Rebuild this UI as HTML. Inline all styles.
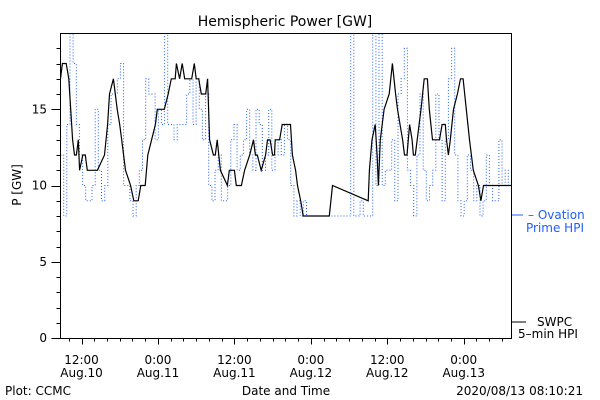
<!DOCTYPE html>
<html><head><meta charset="utf-8"><style>
html,body{margin:0;padding:0;background:#fff;}
svg{display:block;font-family:"DejaVu Sans","Liberation Sans",sans-serif;}
</style></head><body>
<svg id="chart" width="600" height="400" viewBox="0 0 600 400">
<rect width="600" height="400" fill="#fff"/>
<text x="285" y="26" font-size="14" text-anchor="middle">Hemispheric Power [GW]</text>
<text transform="translate(21,185) rotate(-90)" font-size="12" text-anchor="middle">P [GW]</text>
<text x="286" y="395" font-size="12" text-anchor="middle">Date and Time</text>
<text x="5" y="395" font-size="12">Plot: CCMC</text>
<text x="583" y="395" font-size="12" text-anchor="end">2020/08/13 08:10:21</text>
<g>
<line x1="512" y1="215" x2="523" y2="215" stroke="#1f5fff" stroke-width="1"/>
<text x="528" y="219" font-size="12" fill="#1f5fff">– Ovation</text>
<text x="526" y="232" font-size="12" fill="#1f5fff">Prime HPI</text>
</g>
<g>
<line x1="512" y1="322" x2="526" y2="322" stroke="#000" stroke-width="1"/>
<text x="537" y="326" font-size="12">SWPC</text>
<text x="518" y="338" font-size="12">5–min HPI</text>
</g>
<g id="axes"></g>
<g id="series"></g>
<rect x="60.5" y="33.5" width="451" height="305" fill="none" stroke="#000"/>
</svg>
<script>
const yTicks=[0,5,10,15];
const xTickHours=[12,24,36,48,60,72];
const xTickTime=["12:00","0:00","12:00","0:00","12:00","0:00"];
const xTickDate=["Aug.10","Aug.11","Aug.11","Aug.12","Aug.12","Aug.13"];
const swpcHours=[8.7,9.0,9.6,10.0,10.3,10.6,10.9,11.2,11.5,11.7,12.2,12.6,12.9,14.2,14.5,15.6,16.1,16.4,17.0,17.3,17.6,18.0,18.3,18.6,18.9,19.7,20.2,20.9,21.3,22.0,22.4,23.0,23.6,23.9,25.0,25.6,26.1,26.7,26.9,27.4,27.8,28.2,28.6,29.3,29.7,30.0,30.4,30.8,31.5,31.8,32.1,32.7,33.0,33.3,33.8,34.9,35.2,36.0,36.3,37.1,37.6,38.4,39.0,39.3,39.6,40.2,40.9,41.2,41.6,42.0,42.3,42.4,43.1,43.5,44.8,45.1,45.6,45.9,46.4,46.8,50.9,51.4,57.0,57.2,57.6,58.1,58.4,58.6,58.9,59.5,60.3,60.8,61.3,61.6,62.4,62.7,63.1,63.5,63.9,64.1,64.4,64.7,65.3,65.8,66.3,66.6,67.1,68.2,68.6,69.1,69.3,69.6,69.9,70.4,71.0,71.5,71.9,72.4,72.9,73.5,74.3,74.7,75.1,79.5];
const swpcValues=[17,18,18,17,15,13,12,12,13,11,12,12,11,11,11,12,14,16,17,16,15,14,13,12,11,10,9,9,10,10,12,13,14,15,15,16,17,17,18,17,18,17,17,17,18,17,17,16,16,17,13,12,12,13,11,10,11,11,10,10,11,12,13,12,12,11,12,13,13,12,12,13,13,14,14,12,11,10,9,8,8,10,9,11,13,14,12,10,13,15,16,18,16,15,13,12,12,14,13,12,12,13,15,17,17,15,13,13,14,14,13,12,13,15,16,17,17,15,13,11,10,9,10,10];
const ovationStart=8.7, ovationEnd=79.5;
const ovationValues=[12,8,14,20,18,14,12,10,9,9,10,15,11,9,10,14,16,16,17,18,10,10,9,8,10,11,13,17,16,16,13,15,14,20,14,14,13,14,14,14,16,17,14,17,15,13,16,10,9,11,12,9,9,10,13,14,11,12,13,15,12,11,15,14,11,12,15,11,12,13,12,14,13,10,8,9,8,9,8,8,8,8,8,8,8,8,8,8,8,8,8,8,20,8,8,9,8,8,8,20,10,20,10,11,11,13,9,16,17,19,11,10,8,12,16,11,9,10,11,16,13,9,13,17,19,12,9,8,9,12,11,9,10,8,9,12,10,9,9,13,10,11,10,11];
const NS="http://www.w3.org/2000/svg";
const X0=60.5,X1=511.5,Y0=338.5,YTOP=33.5;
const H0=8.7,H1=79.5;
function xs(h){return X0+(h-H0)/(H1-H0)*(X1-X0);}
function ys(v){return 338-v*15.25;}
function mk(tag,attrs,parent){const e=document.createElementNS(NS,tag);for(const k in attrs)e.setAttribute(k,attrs[k]);parent.appendChild(e);return e;}
const axes=document.getElementById('axes');
const series=document.getElementById('series');
for(let v=0;v<=19;v++){
  const major=yTicks.includes(v);
  const t=mk('line',{x1:X0-(major?9:4),x2:X0,y1:Math.round(ys(v))+0.5,y2:Math.round(ys(v))+0.5,stroke:'#000'},axes);
  
  
}
yTicks.forEach(v=>{
  const t=mk('text',{x:47,y:ys(v)+4,'font-size':12,'text-anchor':'end'},axes);
  t.textContent=v;
  
  
});
for(let h=10;h<=H1;h+=2){
  const major=xTickHours.includes(h);
  const x=Math.round(xs(h))+0.5;
  const t=mk('line',{x1:x,x2:x,y1:Y0,y2:Y0+(major?6:3),stroke:'#000'},axes);
  
  
}
xTickHours.forEach((h,i)=>{
  const a=mk('text',{x:xs(h),y:364,'font-size':12,'text-anchor':'middle'},axes);
  a.textContent=xTickTime[i];
  
  
  const b=mk('text',{x:xs(h),y:377,'font-size':12,'text-anchor':'middle'},axes);
  b.textContent=xTickDate[i];
  
  
});
const defs=mk('defs',{},series);
const cp=mk('clipPath',{id:'clip'},defs);
mk('rect',{x:X0,y:YTOP,width:X1-X0,height:Y0-YTOP},cp);
let d='';
const n=ovationValues.length;
ovationValues.forEach((v,i)=>{
  const h=ovationStart+(ovationEnd-ovationStart)*i/(n-1);
  const x=xs(h),y=ys(Math.min(v,20.5));
  d+=(i?' H'+x.toFixed(1)+' V':'M'+x.toFixed(1)+' ')+y.toFixed(1);
});
const ov=mk('path',{d:d,fill:'none',stroke:'#1f5fff','stroke-width':1,'stroke-dasharray':'1 2','clip-path':'url(#clip)'},series);


let s='';
swpcHours.forEach((h,i)=>{
  const x=xs(h),y=ys(swpcValues[i]);
  s+=(i?' L':'M')+x.toFixed(1)+' '+y.toFixed(1);
});
const sw=mk('path',{d:s,fill:'none',stroke:'#000','stroke-width':1.2,'clip-path':'url(#clip)'},series);


</script>
</body></html>
